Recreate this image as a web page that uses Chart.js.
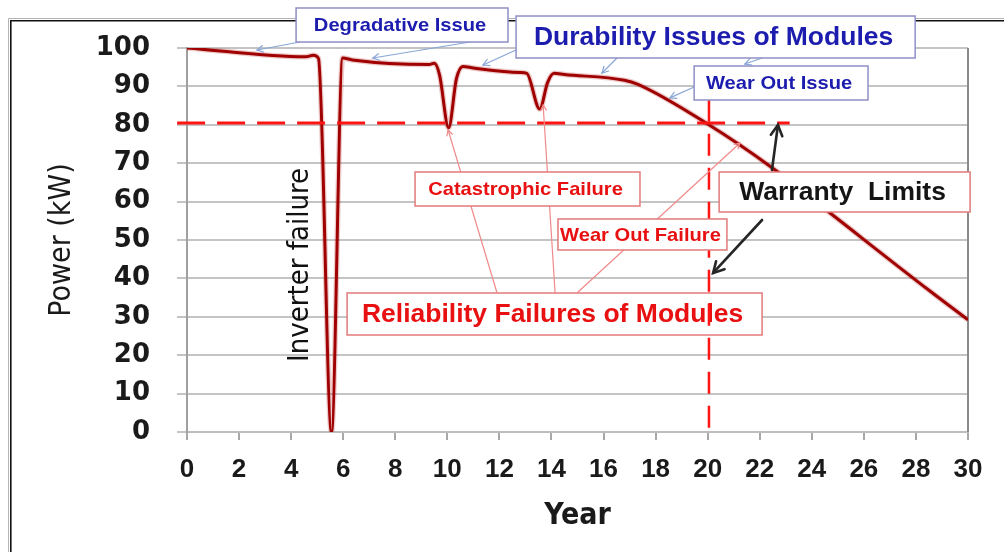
<!DOCTYPE html>
<html>
<head>
<meta charset="utf-8">
<script src="https://cdn.jsdelivr.net/npm/chart.js@4/dist/chart.umd.min.js"></script>
<style>
  html, body { margin: 0; padding: 0; background: #fff; }
  #wrap { position: relative; width: 1004px; height: 552px; }
</style>
</head>
<body>
<div id="wrap"><canvas id="powerChart"></canvas></div>
<script>
// Power output over the life of the system
const years = [0, 4.55, 4.85, 5.05, 5.55, 5.98, 6.35, 9.3, 9.5, 9.7, 10.05, 10.35, 10.6, 11, 12.8, 13.05, 13.55, 13.85, 14.1, 14.5, 16.8, 17.3, 20, 22.5, 24.8, 28.5, 30];
const power = [100, 97.7, 98.1, 97.3, 0, 97.4, 96.9, 95.7, 96.0, 93, 79.2, 92, 95.2, 94.8, 93.6, 93.4, 84.1, 91, 93.4, 93.1, 91.6, 90.6, 80.2, 68.7, 56.5, 36.9, 29.2];

// Warranty limit lines
const limitYears = [-0.38, 23.15];
const limitPower = [80.5, 80.5];
const endYears = [20.05, 20.05];
const endPower = [86.5, 0];

// Axis ticks
const yearTicks = [0, 2, 4, 6, 8, 10, 12, 14, 16, 18, 20, 22, 24, 26, 28, 30];
const powerTicks = [0, 10, 20, 30, 40, 50, 60, 70, 80, 90, 100];

const pts = (xs, ys) => xs.map((x, i) => ({ x: x, y: ys[i] }));

// Callout boxes, in year / kW units
const BLUE = { edge: '#8f8fc8', color: '#1c1cae' };
const RED = { edge: '#e27a7a', color: '#e81010' };
const boxes = [
  { text: 'Degradative Issue', x0: 4.19, x1: 12.33, y0: 101.56, y1: 110.42, size: 19, ...BLUE },
  { text: 'Durability Issues of Modules', x0: 12.64, x1: 27.97, y0: 97.4, y1: 108.33, size: 25, ...BLUE },
  { text: 'Wear Out Issue', x0: 19.48, x1: 26.16, y0: 86.46, y1: 95.31, size: 19, ...BLUE },
  { text: 'Catastrophic Failure', x0: 8.76, x1: 17.4, y0: 58.85, y1: 67.71, size: 19, ...RED },
  { text: 'Wear Out Failure', x0: 14.25, x1: 20.74, y0: 47.4, y1: 55.47, size: 19, ...RED },
  { text: 'Warranty  Limits', x0: 20.44, x1: 30.08, y0: 57.29, y1: 67.71, size: 25, edge: '#e27a7a', color: '#151515' }
];
const reliabilityBox = { text: 'Reliability Failures of Modules', x0: 6.15, x1: 22.09, y0: 25.26, y1: 36.2, size: 25, ...RED };

// pointer lines: [fromYear, fromKW, toYear, toKW]
const blueArrows = [
  [4.34, 101.56, 2.69, 99.48],
  [10.87, 101.56, 7.14, 97.4],
  [12.64, 99.48, 11.37, 95.57],
  [16.52, 97.4, 15.94, 93.49],
  [22.09, 97.4, 21.43, 95.83],
  [19.48, 89.84, 18.55, 87.0]
];
const redPointers = [
  [11.91, 36.2, 10.03, 78.65],
  [14.14, 36.2, 13.68, 85.16],
  [14.98, 36.2, 21.24, 75.26]
];
const blackArrows = [
  [22.47, 68.23, 22.7, 79.95],
  [22.09, 55.21, 20.21, 41.41]
];

function P(chart, x, y) {
  return { x: chart.scales.x.getPixelForValue(x), y: chart.scales.y.getPixelForValue(y) };
}

function drawArrow(c, chart, a, color, width, head) {
  const p0 = P(chart, a[0], a[1]);
  const p1 = P(chart, a[2], a[3]);
  c.strokeStyle = color;
  c.lineWidth = width;
  c.lineCap = 'round';
  c.beginPath();
  c.moveTo(p0.x, p0.y);
  c.lineTo(p1.x, p1.y);
  c.stroke();
  if (head) {
    const ang = Math.atan2(p1.y - p0.y, p1.x - p0.x);
    c.beginPath();
    c.moveTo(p1.x - head * Math.cos(ang - 0.5), p1.y - head * Math.sin(ang - 0.5));
    c.lineTo(p1.x, p1.y);
    c.lineTo(p1.x - head * Math.cos(ang + 0.5), p1.y - head * Math.sin(ang + 0.5));
    c.stroke();
  }
}

function drawBox(c, chart, b) {
  const a = P(chart, b.x0, b.y1);
  const z = P(chart, b.x1, b.y0);
  c.fillStyle = '#fff';
  c.fillRect(a.x, a.y, z.x - a.x, z.y - a.y);
  c.strokeStyle = b.edge;
  c.lineWidth = 1.5;
  c.strokeRect(a.x, a.y, z.x - a.x, z.y - a.y);
  c.save();
  c.font = 'bold ' + b.size + 'px "Liberation Sans", Arial, sans-serif';
  c.fillStyle = b.color;
  c.textAlign = 'center';
  c.textBaseline = 'middle';
  c.translate((a.x + z.x) / 2 - 2, (a.y + z.y) / 2 + 1);
  c.scale(1.06, 1);
  c.fillText(b.text, 0, 0);
  c.restore();
}

const decorations = {
  id: 'decorations',
  beforeDraw(chart) {
    const c = chart.ctx;
    c.save();
    c.fillStyle = '#fff';
    c.fillRect(0, 0, chart.width, chart.height);
    // outer frame
    c.strokeStyle = '#b4b4b4';
    c.lineWidth = 1;
    c.beginPath();
    c.moveTo(8.5, chart.height); c.lineTo(8.5, 18.5); c.lineTo(chart.width, 18.5);
    c.stroke();
    c.strokeStyle = '#111';
    c.lineWidth = 1.6;
    c.beginPath();
    c.moveTo(10.8, chart.height); c.lineTo(10.8, 20.8); c.lineTo(chart.width, 20.8);
    c.stroke();
    c.restore();
  },
  beforeDatasetsDraw(chart) {
    const c = chart.ctx;
    const area = chart.chartArea;
    c.save();
    c.strokeStyle = '#8a8a8a';
    c.lineWidth = 2;
    c.beginPath();
    c.moveTo(area.right, area.top);
    c.lineTo(area.right, area.bottom);
    c.stroke();
    drawBox(c, chart, reliabilityBox);
    c.restore();
  },
  afterDatasetsDraw(chart) {
    const c = chart.ctx;
    c.save();
    redPointers.forEach(a => drawArrow(c, chart, a, '#f08a8a', 1.2, 6));
    blueArrows.forEach(a => drawArrow(c, chart, a, '#89a6d6', 1.2, 7));
    boxes.forEach(b => drawBox(c, chart, b));
    blackArrows.forEach(a => drawArrow(c, chart, a, '#262626', 2.6, 12));

    // inverter note
    const p = P(chart, 4.34, 43.5);
    c.translate(p.x, p.y);
    c.rotate(-Math.PI / 2);
    c.font = '29px "DejaVu Sans Condensed", sans-serif';
    c.fillStyle = '#111';
    c.textAlign = 'center';
    c.textBaseline = 'middle';
    c.fillText('Inverter failure', 0, 0);
    c.restore();
  }
};

const ctx = document.getElementById('powerChart').getContext('2d');
const powerChart = new Chart(ctx, {
  type: 'line',
  data: {
    datasets: [{
      data: pts(limitYears, limitPower),
      borderColor: '#ff1414',
      borderWidth: 3,
      borderDash: [28, 12],
      pointRadius: 0,
      clip: false
    }, {
      data: pts(endYears, endPower),
      borderColor: '#ff1414',
      borderWidth: 2.5,
      borderDash: [22, 12],
      pointRadius: 0
    }, {
      data: pts(years, power),
      borderColor: '#a00000',
      borderWidth: 3,
      pointRadius: 0,
      cubicInterpolationMode: 'monotone',
      borderJoinStyle: 'round'
    }, {
      data: pts(years, power),
      borderColor: 'rgba(175, 20, 20, 0.22)',
      borderWidth: 5.5,
      pointRadius: 0,
      cubicInterpolationMode: 'monotone',
      borderJoinStyle: 'round'
    }]
  },
  options: {
    responsive: true,
    maintainAspectRatio: false,
    animation: false,
    layout: { padding: { top: 48, right: 36, left: 0, bottom: 0 } },
    plugins: { legend: { display: false }, tooltip: { enabled: false } },
    scales: {
      x: {
        type: 'linear',
        min: 0,
        max: 30,
        afterBuildTicks: s => { s.ticks = yearTicks.map(v => ({ value: v })); },
        afterFit: s => { s.height = 120; },
        grid: { drawOnChartArea: false, drawTicks: true, tickLength: 8, color: '#a8a8a8', lineWidth: 2 },
        border: { color: '#bdbdbd', width: 2 },
        ticks: {
          padding: 14,
          color: '#1a1a1a',
          font: { family: "'Liberation Sans', Arial, sans-serif", size: 26, weight: 'bold' }
        },
        title: {
          display: true,
          text: 'Year',
          color: '#1a1a1a',
          padding: { top: 0, bottom: 18 },
          font: { family: "'DejaVu Sans Condensed', sans-serif", size: 30, weight: 'bold' }
        }
      },
      y: {
        min: 0,
        max: 100,
        afterBuildTicks: s => { s.ticks = powerTicks.map(v => ({ value: v })); },
        afterFit: s => { s.width = 187; },
        grid: { color: '#c4c4c4', lineWidth: 2, tickLength: 10 },
        border: { color: '#a0a0a0', width: 2 },
        ticks: {
          padding: 27,
          color: '#1a1a1a',
          font: { family: "'DejaVu Sans', Verdana, sans-serif", size: 26, weight: 'bold' }
        },
        title: {
          display: true,
          text: 'Power (kW)',
          color: '#1a1a1a',
          padding: { top: 44, bottom: 0 },
          font: { family: "'DejaVu Sans Condensed', sans-serif", size: 30 }
        }
      }
    }
  },
  plugins: [decorations]
});
</script>
</body>
</html>
